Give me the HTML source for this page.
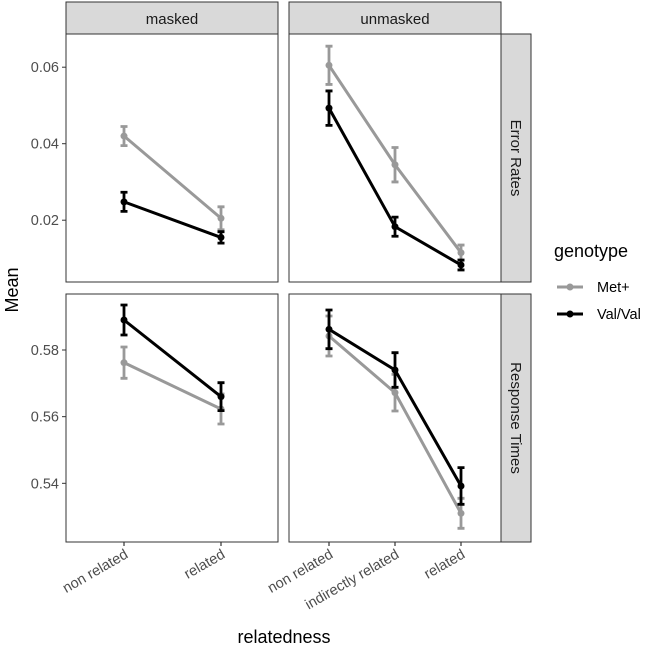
<!DOCTYPE html>
<html><head><meta charset="utf-8"><style>
body{margin:0;background:#fff}
svg{display:block;font-family:"Liberation Sans",sans-serif}
</style></head><body>
<svg width="654" height="659" id="c">
<g id="g"></g>
</svg>
<script>
const catsMasked=["non related","related"];
const catsUnmasked=["non related","indirectly related","related"];
// Error Rates
const erMaskedMet=[0.0420,0.0205], erMaskedMetErr=[0.0025,0.003];
const erMaskedVal=[0.0248,0.0155], erMaskedValErr=[0.0025,0.0015];
const erUnmaskedMet=[0.0605,0.0345,0.0115], erUnmaskedMetErr=[0.005,0.0045,0.002];
const erUnmaskedVal=[0.0493,0.0183,0.0083], erUnmaskedValErr=[0.0045,0.0025,0.0013];
// Response Times
const rtMaskedMet=[0.5762,0.5623], rtMaskedMetErr=[0.0047,0.0045];
const rtMaskedVal=[0.5890,0.5660], rtMaskedValErr=[0.0045,0.0042];
const rtUnmaskedMet=[0.5842,0.5672,0.5310], rtUnmaskedMetErr=[0.006,0.0055,0.0045];
const rtUnmaskedVal=[0.5862,0.5740,0.5392], rtUnmaskedValErr=[0.0058,0.0052,0.0055];
const erTicks=[0.02,0.04,0.06], rtTicks=[0.54,0.56,0.58];

const NS="http://www.w3.org/2000/svg";
const G=document.getElementById('g');
function mk(t,a,p){const e=document.createElementNS(NS,t);for(const k in a)e.setAttribute(k,a[k]);(p||G).appendChild(e);return e;}
const cols=[{x0:66,x1:278,cats:catsMasked,tick:[124,221],name:"masked"},{x0:289,x1:501,cats:catsUnmasked,tick:[329,395,461],name:"unmasked"}];
const rows=[{y0:34,y1:282,name:"Error Rates",ticks:erTicks,y:v=>143.7-(v-0.04)*3825},
            {y0:294,y1:542,name:"Response Times",ticks:rtTicks,y:v=>350-(v-0.58)*3333}];
function xPos(ci,i){const c=cols[ci];const n=c.cats.length;const p=c.x0+(c.x1-c.x0)*((i+1)/(n+1));return c.tick[i]!==undefined?c.tick[i]:p;}
const data=[[[erMaskedMet,erMaskedMetErr,erMaskedVal,erMaskedValErr],[erUnmaskedMet,erUnmaskedMetErr,erUnmaskedVal,erUnmaskedValErr]],
            [[rtMaskedMet,rtMaskedMetErr,rtMaskedVal,rtMaskedValErr],[rtUnmaskedMet,rtUnmaskedMetErr,rtUnmaskedVal,rtUnmaskedValErr]]];
cols.forEach((c,ci)=>{
  const r=mk('rect',{x:c.x0,y:2,width:c.x1-c.x0,height:32,fill:'#d9d9d9',stroke:'#333','stroke-width':1});
  
  
  const t=mk('text',{x:(c.x0+c.x1)/2,y:24,'text-anchor':'middle','font-size':15,fill:'#1a1a1a'});t.textContent=c.name;
  
  
});
rows.forEach((r,ri)=>{
  const s=mk('rect',{x:501,y:r.y0,width:30,height:r.y1-r.y0,fill:'#d9d9d9',stroke:'#333','stroke-width':1});
  
  
  const cy=(r.y0+r.y1)/2;
  const t=mk('text',{x:516,y:cy,'text-anchor':'middle','font-size':15,fill:'#1a1a1a',transform:`rotate(90 516 ${cy}) translate(0 5)`});t.textContent=r.name;
  
  
  r.ticks.forEach(v=>{const y=r.y(v);
    mk('line',{x1:62,x2:66,y1:y,y2:y,stroke:'#333','stroke-width':1});
    const t=mk('text',{x:59,y:y+5,'text-anchor':'end','font-size':14.5,fill:'#4d4d4d'});t.textContent=v.toFixed(2);
    
    
  });
  cols.forEach((c,ci)=>{
    const p=mk('rect',{x:c.x0,y:r.y0,width:c.x1-c.x0,height:r.y1-r.y0,fill:'#fff',stroke:'#333','stroke-width':1});
    
    
    const d=data[ri][ci];
    [[d[0],d[1],'#999999','met'],[d[2],d[3],'#000000','val']].forEach(([vals,errs,col,nm])=>{
      const pts=vals.map((v,i)=>xPos(ci,i)+','+r.y(v)).join(' ');
      const l=mk('polyline',{points:pts,fill:'none',stroke:col,'stroke-width':3});
      
      
      vals.forEach((v,i)=>{const x=xPos(ci,i);
        const ya=r.y(v+errs[i]),yb=r.y(v-errs[i]);
        const eb=mk('path',{d:`M${x-3.5},${ya}H${x+3.5}M${x},${ya}V${yb}M${x-3.5},${yb}H${x+3.5}`,stroke:col,'stroke-width':2.8,fill:'none'});
        
        
        const pt=mk('circle',{cx:x,cy:r.y(v),r:3.5,fill:col});
        
        
      });
    });
  });
});
cols.forEach((c,ci)=>{c.cats.forEach((cat,i)=>{const x=xPos(ci,i);
  mk('line',{x1:x,x2:x,y1:542,y2:546,stroke:'#333','stroke-width':1.2});
  const t=mk('text',{x:x+5,y:557,'text-anchor':'end','font-size':14.5,fill:'#4d4d4d',transform:`rotate(-30 ${x+5} 557)`});t.textContent=cat;
  
  
});});
let t=mk('text',{x:284,y:643,'text-anchor':'middle','font-size':18,fill:'#000'});t.textContent='relatedness';


t=mk('text',{x:0,y:0,'text-anchor':'middle','font-size':18,fill:'#000',transform:'translate(18 290) rotate(-90)'});t.textContent='Mean';


t=mk('text',{x:554,y:257,'font-size':18,fill:'#000'});t.textContent='genotype';


[['Met+','#999999',287],['Val/Val','#000000',314]].forEach(([lab,col,y])=>{
  const g=mk('g',{});
  
  
  mk('line',{x1:557,x2:583,y1:y,y2:y,stroke:col,'stroke-width':3},g);
  mk('circle',{cx:570,cy:y,r:3.5,fill:col},g);
  const tt=mk('text',{x:597,y:y+5,'font-size':14.5,fill:'#000'},g);tt.textContent=lab;
});
</script>
</body></html>
